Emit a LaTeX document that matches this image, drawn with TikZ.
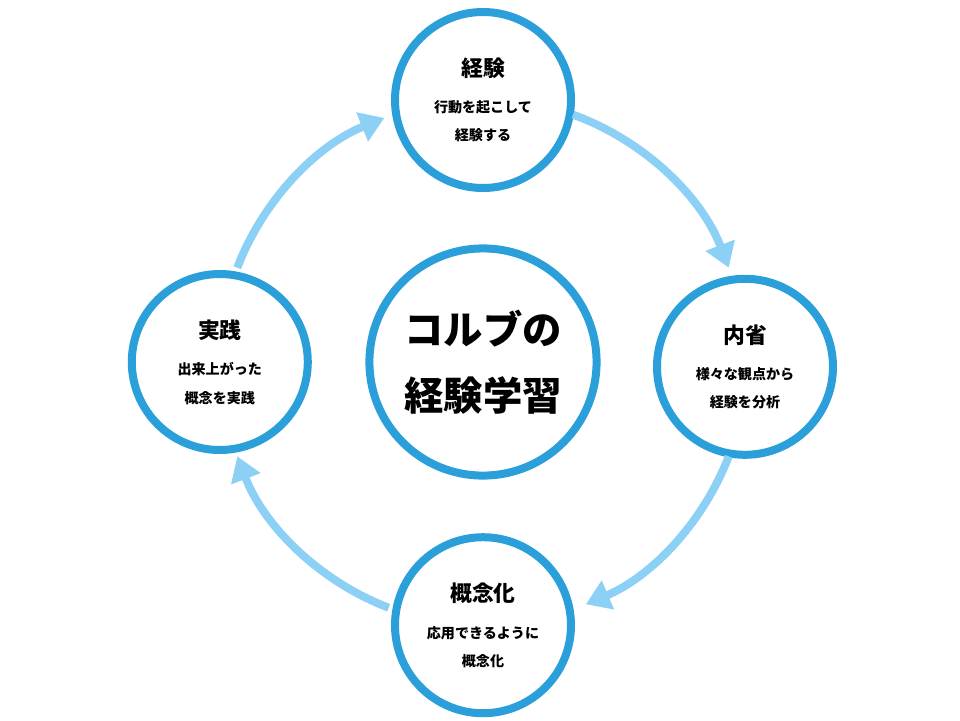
\documentclass[tikz,border=0pt]{standalone}
\usepackage{fontspec}
\setmainfont{Noto Sans CJK JP}
\usetikzlibrary{positioning,arrows.meta}

\definecolor{ringblue}{HTML}{2A9FD9}
\definecolor{flowblue}{HTML}{8CD0F5}

\tikzset{
  stage/.style={circle,draw=ringblue,line width=0.2cm,minimum size=4.4cm,
    align=center,inner sep=0pt,font=\bfseries\fontsize{10}{20}\selectfont},
  hub/.style={circle,draw=ringblue,line width=0.2cm,minimum size=5.68cm,
    align=center,inner sep=0pt,font=\bfseries\fontsize{28}{47}\selectfont},
  flow/.style={draw=flowblue,line width=0.2cm,
    -{Triangle[length=0.6cm,width=0.75cm]}},
}
\newcommand{\ttl}[1]{{\fontsize{15.5}{18}\selectfont #1}\\[6pt]}

\begin{document}
\begin{tikzpicture}
  \useasboundingbox (-12.075,-8.95) rectangle (11.925,9.05);

  % centre
  \node[hub] (kolb) at (0,0) {コルブの\\経験学習};

  % the four stages
  \node[stage] (exp)  at (0,6.55)     {\ttl{経験}行動を起こして\\経験する};
  \node[stage] (refl) at (6.55,-0.12) {\ttl{内省}様々な観点から\\経験を分析};
  \node[stage] (conc) at (0,-6.58)    {\ttl{概念化}応用できるように\\概念化};
  \node[stage] (prac) at (-6.58,0)    {\ttl{実践}出来上がった\\概念を実践};

  % cycle arrows
  \draw[flow] ([shift={(70:6.58)}]kolb.center) arc[start angle=70,end angle=21,radius=6.58];
  \draw[flow] ([shift={(-21:6.58)}]kolb.center) arc[start angle=-21,end angle=-67,radius=6.58];
  \draw[flow] ([shift={(-111:6.58)}]kolb.center) arc[start angle=-111,end angle=-159,radius=6.58];
  \draw[flow] ([shift={(159:6.58)}]kolb.center) arc[start angle=159,end angle=112,radius=6.58];
\end{tikzpicture}
\end{document}
